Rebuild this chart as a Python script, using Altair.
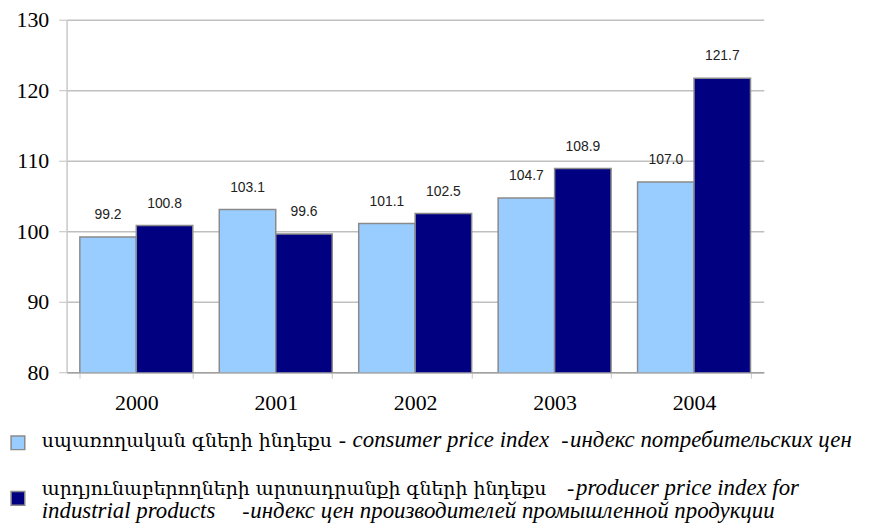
import altair as alt
import pandas as pd

years = ["2000", "2001", "2002", "2003", "2004"]
consumer = [99.2, 103.1, 101.1, 104.7, 107.0]
producer = [100.8, 99.6, 102.5, 108.9, 121.7]
series_names = ["consumer", "producer"]
series_colors = ["#99CCFF", "#000080"]

SERIF = "Times New Roman"
ARM = "DejaVu Serif"

# legend text segments: (text, font, size, italic, x, y)  -- x,y relative to plot origin
legend_segments = [
    ("սպառողական գների ինդեքս", ARM, 19, False, -25, 430),
    ("-", SERIF, 22, False, 274, 430),
    ("consumer price index", SERIF, 23, True, 288, 430),
    ("-", SERIF, 22, False, 498, 430),
    ("индекс потребительских цен", SERIF, 23, True, 507, 430),
    ("արդյունաբերողների արտադրանքի գների ինդեքս", ARM, 19, False, -25, 479),
    ("-", SERIF, 22, False, 504, 479),
    ("producer price index for", SERIF, 23, True, 513, 479),
    ("industrial products", SERIF, 23, True, -25, 502),
    ("-", SERIF, 22, False, 177, 502),
    ("индекс цен производителей промышленной продукции", SERIF, 23, True, 185, 502),
]
legend_squares = [(-49, 426, 0), (-49, 482, 1)]

rows = []
for i, y in enumerate(years):
    rows.append({"year": y, "series": "consumer", "value": consumer[i], "label": f"{consumer[i]:.1f}"})
    rows.append({"year": y, "series": "producer", "value": producer[i], "label": f"{producer[i]:.1f}"})
df = pd.DataFrame(rows)

W, H = 702, 355

xenc = alt.X("year:N", title=None,
             scale=alt.Scale(paddingInner=0.19, paddingOuter=0.095),
             axis=alt.Axis(labelAngle=0, labelFont=SERIF, labelFontSize=22,
                           labelColor="#000", labelPadding=14, tickBand="extent",
                           tickSize=6, tickColor="#c8c8c8", domainColor="#a0a0a0",
                           domainWidth=1.5, grid=False))
yenc = alt.Y("value:Q", title=None,
             scale=alt.Scale(domain=[80, 130], nice=False, zero=False),
             axis=alt.Axis(values=[80, 90, 100, 110, 120, 130], labelFont=SERIF,
                           labelFontSize=22, labelColor="#000", labelPadding=10,
                           tickSize=8, tickColor="#c0c0c0", domainColor="#c8c8c8",
                           gridColor="#c0c0c0", gridWidth=1.5, domainWidth=1.5))
xoff = alt.XOffset("series:N", scale=alt.Scale(domain=series_names, paddingInner=0, paddingOuter=0))

bars = alt.Chart(df).mark_bar(stroke="#8a8a8a", strokeWidth=1.5, clip=True).encode(
    x=xenc, y=yenc, xOffset=xoff,
    color=alt.Color("series:N", scale=alt.Scale(domain=series_names, range=series_colors), legend=None),
)

labels = alt.Chart(df).mark_text(baseline="alphabetic", dy=-18, font="Liberation Sans", fontSize=14,
                                 color="#222").encode(
    x=xenc, y=yenc, xOffset=xoff, text="label:N"
)

layers = [bars, labels]
for (t, fnt, fs, ital, lx, ly) in legend_segments:
    layers.append(
        alt.Chart(pd.DataFrame({"t": [t]})).mark_text(
            align="left", baseline="alphabetic", font=fnt,
            fontSize=fs, fontStyle="italic" if ital else "normal", color="#000"
        ).encode(x=alt.value(lx), y=alt.value(ly), text="t:N")
    )
for (sx, sy, ci) in legend_squares:
    layers.append(
        alt.Chart(pd.DataFrame({"c": [series_names[ci]]})).mark_square(
            size=190, fill=series_colors[ci], stroke="#8a8a8a", strokeWidth=1.5, opacity=1
        ).encode(x=alt.value(sx), y=alt.value(sy))
    )

chart = alt.layer(*layers).properties(
    width=W, height=H,
    background="white",
    autosize=alt.AutoSizeParams(type="none"),
    padding={"left": 59, "top": 10, "right": 110, "bottom": 152},
).configure(font=SERIF).configure_axis(labelFont=SERIF).configure_view(stroke=None)

chart.save("out.html", embed_options={"renderer": "svg", "actions": False})
